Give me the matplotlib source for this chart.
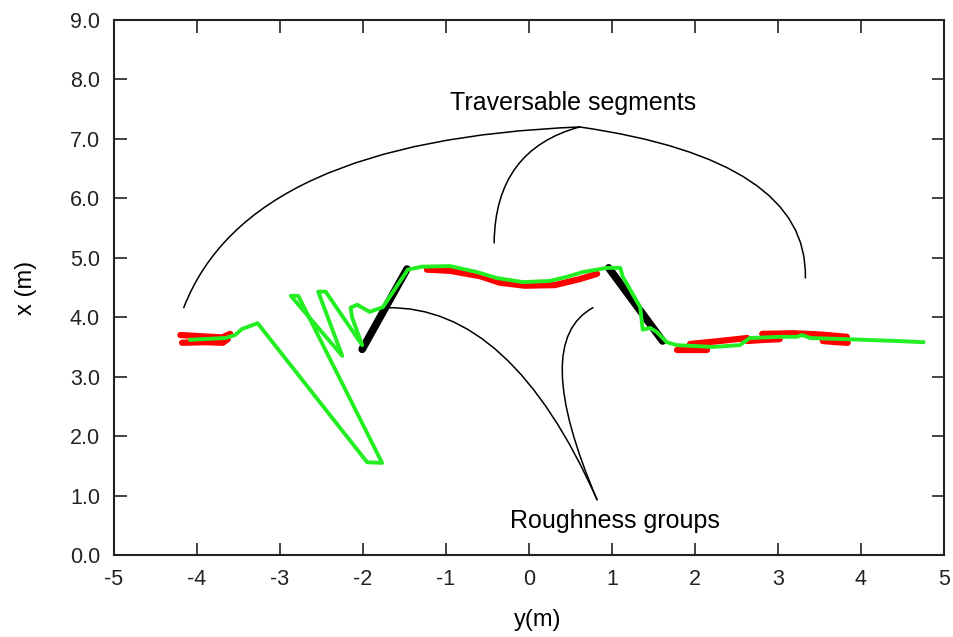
import matplotlib
matplotlib.use("Agg")
import matplotlib.pyplot as plt
import numpy as np

plt.rcParams['font.family'] = ['Liberation Sans', 'DejaVu Sans']
plt.rcParams['axes.unicode_minus'] = False

# green trajectory (y, x in metres)
green_y = [-4.08, -3.66, -3.54, -3.46, -3.27, -1.95, -1.77, -2.78, -2.87, -2.25,
           -2.54, -2.45, -2.01, -2.13, -2.15, -2.07, -1.92, -1.76, -1.46, -1.29,
           -0.95, -0.63, -0.39, -0.07, 0.25, 0.46, 0.65, 0.94, 1.10, 1.13,
           1.34, 1.37, 1.46, 1.54, 1.66, 1.78, 2.22, 2.54, 2.66, 3.02,
           3.23, 3.29, 3.39, 3.83, 4.43, 4.75]
green_x = [3.62, 3.65, 3.70, 3.80, 3.90, 1.56, 1.55, 4.36, 4.36, 3.35,
           4.43, 4.43, 3.53, 3.99, 4.16, 4.21, 4.09, 4.17, 4.80, 4.85,
           4.86, 4.76, 4.66, 4.59, 4.61, 4.68, 4.76, 4.83, 4.83, 4.68,
           4.17, 3.79, 3.82, 3.75, 3.58, 3.53, 3.50, 3.53, 3.65, 3.67,
           3.67, 3.70, 3.65, 3.63, 3.60, 3.58]

# red roughness bands
red_y = [
    [-4.20, -3.95, -3.70, -3.60],
    [-4.18, -3.90, -3.69, -3.63],
    [-1.23, -0.95, -0.59, -0.35, -0.05, 0.31, 0.61, 0.82],
    [1.78, 1.95, 2.15],
    [1.94, 2.30, 2.63],
    [2.63, 2.85, 3.02],
    [2.81, 3.20, 3.50, 3.83],
    [3.54, 3.70, 3.84],
]
red_x = [
    [3.70, 3.68, 3.66, 3.72],
    [3.57, 3.58, 3.57, 3.63],
    [4.80, 4.78, 4.69, 4.58, 4.53, 4.54, 4.64, 4.73],
    [3.45, 3.45, 3.45],
    [3.55, 3.60, 3.65],
    [3.60, 3.62, 3.63],
    [3.72, 3.73, 3.71, 3.67],
    [3.60, 3.58, 3.57],
]

# black traversable segments
black_y = [[-2.01, -1.47], [0.96, 1.61]]
black_x = [[3.46, 4.81], [4.83, 3.60]]

# annotations: label, text position, hub, ends, connection angles (A, B)
trav_label = "Traversable segments"
trav_text = (0.53, 7.60)
trav_hub = (0.61, 7.20)
trav_ends = [(-4.16, 4.16), (-0.42, 5.25), (3.33, 4.66)]
trav_angles = [(2.3, 68.9), (15.1, 89.4), (-8.2, 88.5)]

rough_label = "Roughness groups"
rough_text = (1.04, 0.58)
rough_hub = (0.82, 0.93)
rough_ends = [(-1.71, 4.16), (0.77, 4.16)]
rough_angles = [(113.9, 1.0), (113.2, 28.5)]

y_ticks = np.arange(-5, 6, 1)
x_ticks = np.arange(0, 10, 1)

fig = plt.figure(figsize=(9.54, 6.37), dpi=100)
ax = fig.add_axes([0.1195, 0.1287, 0.87, 0.84])

for yy, xx in zip(red_y, red_x):
    ax.plot(yy, xx, color='#ff0000', lw=4.5, solid_capstyle='round', zorder=2)
for yy, xx in zip(black_y, black_x):
    ax.plot(yy, xx, color='black', lw=5.5, solid_capstyle='round', zorder=3)
ax.plot(green_y, green_x, color='#22ee22', lw=2.8, zorder=4)

for end, (a, b) in zip(trav_ends, trav_angles):
    ax.annotate("", xy=end, xytext=trav_hub,
                arrowprops=dict(arrowstyle='-', color='black', lw=1.1,
                                shrinkA=0, shrinkB=0,
                                connectionstyle=f"angle3,angleA={a},angleB={b}"))
for end, (a, b) in zip(rough_ends, rough_angles):
    ax.annotate("", xy=end, xytext=rough_hub,
                arrowprops=dict(arrowstyle='-', color='black', lw=1.1,
                                shrinkA=0, shrinkB=0,
                                connectionstyle=f"angle3,angleA={a},angleB={b}"))

ax.text(*trav_text, trav_label, ha='center', va='center', fontsize=18)
ax.text(*rough_text, rough_label, ha='center', va='center', fontsize=18)

ax.set_xlim(-5, 5)
ax.set_ylim(0, 9)
ax.set_xticks(y_ticks)
ax.set_xticklabels([str(v) for v in y_ticks])
ax.set_yticks(x_ticks)
ax.set_yticklabels([f"{v:.1f}" for v in x_ticks])
ax.tick_params(direction='in', length=9, width=1.2, top=True, right=True,
               labelsize=15.5, pad=10, colors='#222222')
for s in ax.spines.values():
    s.set_linewidth(1.5)
    s.set_color('#222222')

ax.set_xlabel("y(m)", fontsize=17)
ax.set_ylabel("x (m)", fontsize=17)
ax.xaxis.set_label_coords(0.51, -0.1)
ax.yaxis.set_label_coords(-0.093, 0.5)

fig.savefig("out.png", dpi=100)
